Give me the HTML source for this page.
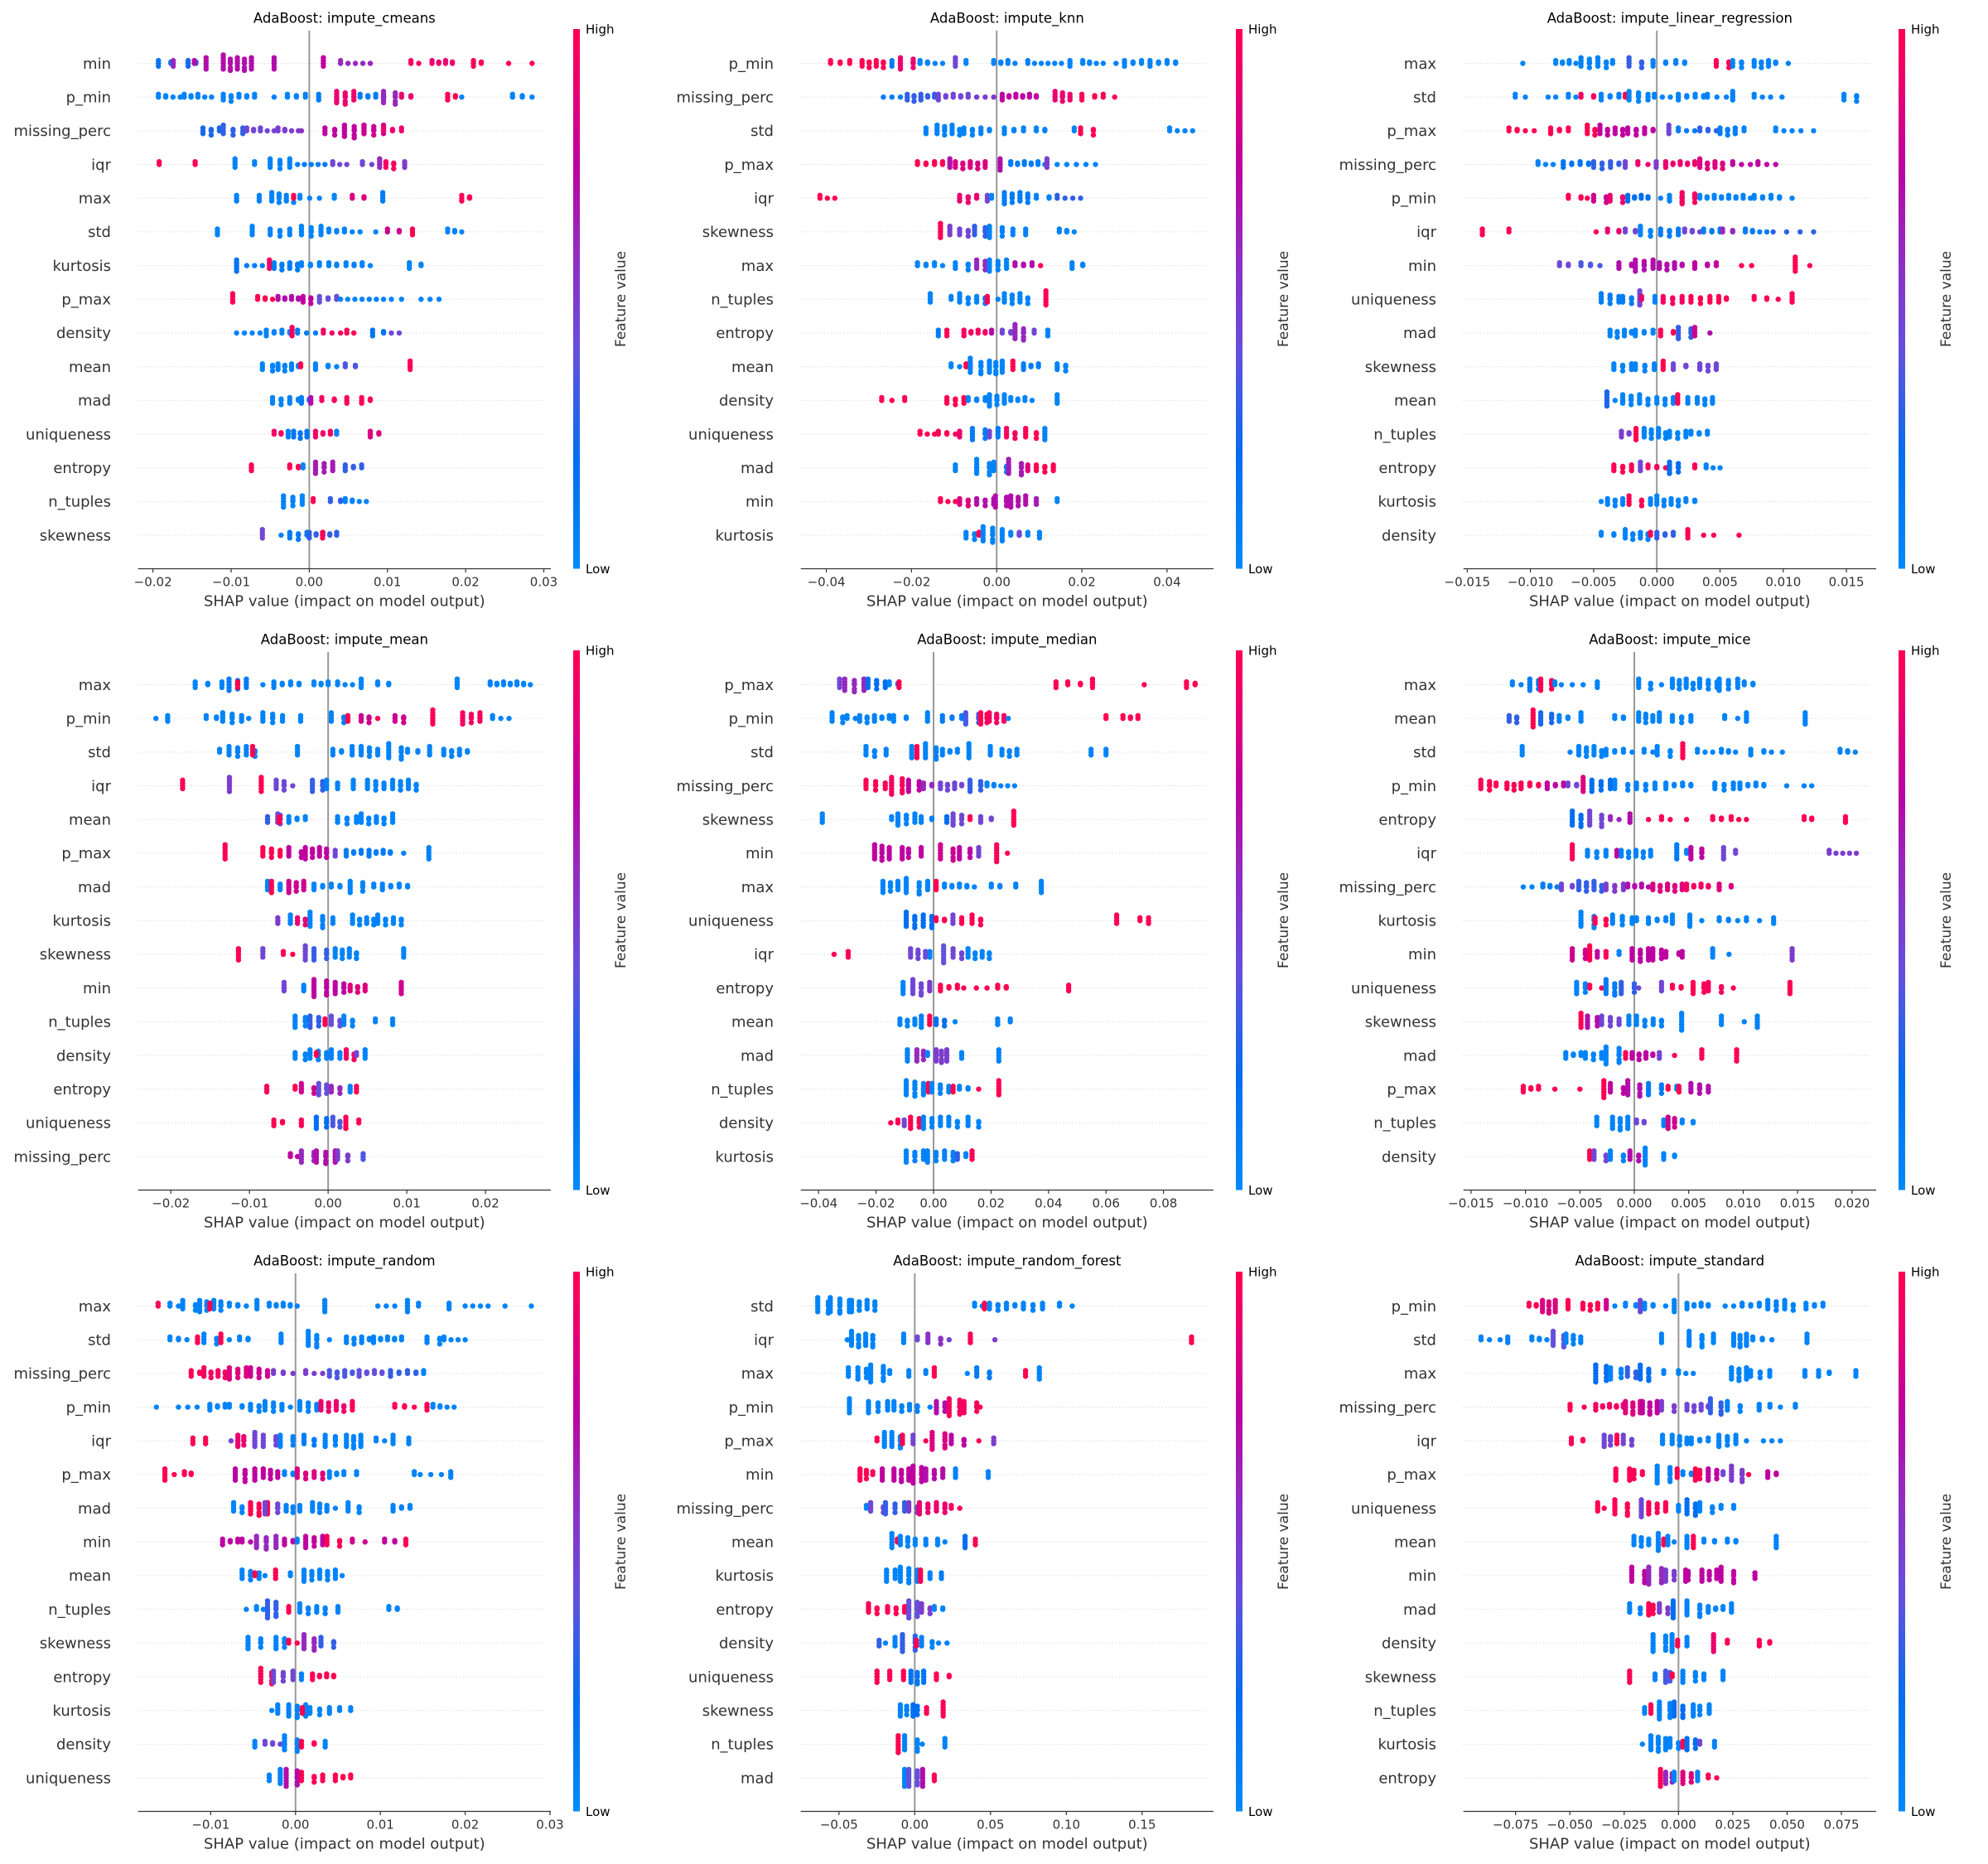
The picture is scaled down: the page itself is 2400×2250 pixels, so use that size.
<!DOCTYPE html>
<html>
<head>
<meta charset="utf-8">
<style>
html,body{margin:0;padding:0;background:#fff;}
svg{display:block;font-family:"DejaVu Sans","Liberation Sans",sans-serif;}
</style>
</head>
<body>
<svg id="fig" width="2400" height="2250" viewBox="0 0 2400 2250" xmlns="http://www.w3.org/2000/svg">
<defs>
<linearGradient id="cbar" x1="0" y1="1" x2="0" y2="0">
<stop offset="0" stop-color="#008afa"/>
<stop offset="0.2" stop-color="#006ef0"/>
<stop offset="0.4" stop-color="#6450dc"/>
<stop offset="0.6" stop-color="#9628be"/>
<stop offset="0.75" stop-color="#be00a0"/>
<stop offset="0.9" stop-color="#eb006e"/>
<stop offset="1" stop-color="#ff0052"/>
</linearGradient>
</defs>
</svg>
<script>
// ---------- Panel 1: impute_cmeans ----------
const p1Title = "AdaBoost: impute_cmeans";
const p1Features = ["min","p_min","missing_perc","iqr","max","std","kurtosis","p_max","density","mean","mad","uniqueness","entropy","n_tuples","skewness"];
const p1Domain = [-0.0219, 0.0309];
const p1Ticks = [-0.02,-0.01,0,0.01,0.02,0.03];
const p1TickLabels = ["\u22120.02","\u22120.01","0.00","0.01","0.02","0.03"];
const p1Clusters = [
 [[-0.0193,-0.0177,5,0.15],[-0.0174,3,0.6],[-0.0155,-0.0145,5,0.25],[-0.0147,2,0.7],[-0.0132,5,0.7],[-0.011,-0.0074,26,0.7],[-0.0045,5,0.7],[0.0018,4,0.75],[0.004,0.0078,6,0.6],[0.013,0.014,3,0.95],[0.0157,0.0183,8,0.9],[0.021,0.022,5,1],[0.0255,1,1],[0.0285,1,1]],
 [[-0.0193,-0.0165,6,0.05],[-0.016,-0.0125,8,0.05],[-0.011,-0.007,12,0.05],[-0.0045,1,0.05],[-0.0028,-0.0005,6,0.05],[0.0012,3,0.1],[0.0035,0.0057,14,0.9],[0.0065,0.0095,8,0.1],[0.0095,0.011,10,0.6],[0.0118,0.013,4,0.9],[0.0177,0.0187,5,1],[0.0195,1,0.05],[0.026,0.0285,5,0.05]],
 [[-0.0136,-0.0115,8,0.25],[-0.011,-0.0085,10,0.3],[-0.008,-0.0045,8,0.45],[-0.004,-0.0014,6,0.5],[-0.001,1,0.55],[0.002,0.0045,8,0.75],[0.0045,0.007,14,0.75],[0.007,0.0095,12,0.8],[0.0095,0.0118,6,0.9]],
 [[-0.0192,2,1],[-0.0146,2,1],[-0.0095,4,0.05],[-0.007,2,0.05],[-0.005,-0.0025,12,0.05],[-0.0015,0.002,5,0.1],[0.003,0.0048,4,0.45],[0.0068,0.008,3,0.45],[0.009,4,0.6],[0.0098,0.0108,6,0.95],[0.0122,3,0.5]],
 [[-0.0093,3,0.05],[-0.0068,-0.006,3,0.05],[-0.0048,-0.002,14,0.05],[-0.002,2,1],[-0.0012,0.0013,4,0.05],[0.0032,2,0.05],[0.0055,0.007,4,0.85],[0.009,0.0098,4,0.1],[0.0195,0.0205,5,1]],
 [[-0.012,-0.0115,3,0.05],[-0.0073,4,0.05],[-0.005,-0.0025,9,0.05],[-0.001,0.0015,12,0.05],[0.0025,0.0065,8,0.05],[0.0085,1,0.05],[0.01,0.0115,4,0.8],[0.0132,3,1],[0.0177,0.0195,5,0.05]],
 [[-0.0093,5,0.15],[-0.008,-0.006,3,0.1],[-0.0055,-0.0047,4,0.95],[-0.0045,-0.0015,12,0.1],[-0.001,0.0013,6,0.05],[0.0025,0.0035,4,0.05],[0.0047,0.0078,7,0.05],[0.0128,0.0143,5,0.05]],
 [[-0.0098,4,1],[-0.0066,-0.0047,5,1],[-0.004,-0.0014,8,0.7],[-0.0008,0.0002,6,0.75],[0.0013,0.0035,7,0.4],[0.004,0.0095,7,0.05],[0.0105,0.0118,2,0.05],[0.0143,0.0166,3,0.05]],
 [[-0.0093,-0.0063,4,0.05],[-0.0055,-0.0025,9,0.05],[-0.0022,4,0.95],[-0.0015,0.0008,4,0.1],[0.0018,0.004,4,0.95],[0.0048,0.0057,3,1],[0.0081,0.0095,5,0.15],[0.0105,0.0115,2,0.45]],
 [[-0.006,-0.0047,6,0.05],[-0.004,-0.0014,11,0.05],[-0.0011,2,1],[0.0008,0.0024,5,0.05],[0.0035,1,0.05],[0.0046,0.0059,4,0.35],[0.0129,4,1]],
 [[-0.0047,-0.0014,11,0.05],[-0.001,0,5,0.1],[0.0002,3,0.7],[0.0016,0.0032,4,0.95],[0.0048,3,1],[0.0067,0.0078,5,1]],
 [[-0.0045,-0.0036,4,0.95],[-0.0027,3,0.05],[-0.002,-0.0003,9,0.15],[0.0008,0.0027,7,0.95],[0.0035,2,0.05],[0.0078,0.0089,5,0.85]],
 [[-0.0074,3,1],[-0.0025,-0.0014,4,1],[-0.0008,2,0.05],[0.0008,0.003,13,0.65],[0.0046,0.0067,7,0.3]],
 [[-0.0033,-0.0009,13,0.05],[0.0005,2,1],[0.0027,0.004,4,0.3],[0.0046,0.0073,6,0.05]],
 [[-0.006,4,0.45],[-0.0036,1,0.05],[-0.0025,-0.0003,8,0.1],[0,0.0035,11,0.3],[0.0017,3,1]]
];

// ---------- Panel 2: impute_knn ----------
const p2Title = "AdaBoost: impute_knn";
const p2Features = ["p_min","missing_perc","std","p_max","iqr","skewness","max","n_tuples","entropy","mean","density","uniqueness","mad","min","kurtosis"];
const p2Domain = [-0.046, 0.0509];
const p2Ticks = [-0.04,-0.02,0,0.02,0.04];
const p2TickLabels = ["\u22120.04","\u22120.02","0.00","0.02","0.04"];
const p2Clusters = [
 [[-0.039,-0.0345,6,1],[-0.0316,-0.0266,12,1],[-0.0246,3,0.1],[-0.0226,-0.0196,9,0.9],[-0.018,-0.0127,6,0.05],[-0.0097,4,0.45],[-0.0072,2,0.05],[-0.0007,0.0043,7,0.05],[0.0073,0.0152,7,0.05],[0.0172,3,0.05],[0.0202,0.025,6,0.05],[0.028,1,0.05],[0.03,0.034,7,0.05],[0.036,0.042,9,0.05]],
 [[-0.0266,-0.0226,3,0.1],[-0.021,-0.0146,13,0.3],[-0.0137,-0.0067,11,0.45],[-0.0047,-0.0007,3,0.5],[0.0013,0.0093,13,0.75],[0.0137,0.0172,11,0.9],[0.02,0.023,5,1],[0.025,0.0277,3,1]],
 [[-0.0166,3,0.05],[-0.014,-0.0087,15,0.05],[-0.0077,-0.0017,11,0.05],[0.0018,0.0063,7,0.05],[0.0093,0.0113,4,0.05],[0.0182,2,0.05],[0.0197,0.0227,6,1],[0.0406,0.046,5,0.05]],
 [[-0.0186,-0.0146,6,1],[-0.0127,2,1],[-0.011,4,0.7],[-0.0097,-0.0027,15,0.85],[0.0003,0.0013,5,0.7],[0.0033,0.0113,11,0.1],[0.0118,4,0.5],[0.0142,0.0232,5,0.05]],
 [[-0.0415,-0.038,4,1],[-0.0087,-0.0047,8,0.9],[-0.0022,3,0.45],[-0.0012,2,0.05],[0.0018,0.0073,17,0.1],[0.0093,0.0123,4,0.05],[0.0142,0.0197,5,0.3]],
 [[-0.0137,-0.0127,6,1],[-0.011,4,0.5],[-0.0087,-0.0067,6,0.45],[-0.0052,-0.0027,8,0.3],[-0.0017,0.0013,9,0.05],[0.0038,3,0.05],[0.0068,3,0.05],[0.0147,0.0182,5,0.05]],
 [[-0.0186,-0.0146,6,0.05],[-0.0127,1,0.05],[-0.0097,-0.0067,6,0.05],[-0.0047,-0.0027,8,0.6],[-0.0017,0.0023,13,0.05],[0.0043,0.0083,6,0.7],[0.0103,1,1],[0.0177,0.0202,5,0.05]],
 [[-0.0156,4,0.05],[-0.0107,2,0.05],[-0.0087,-0.0027,13,0.05],[-0.0022,3,1],[0.0003,1,0.05],[0.0018,0.0073,15,0.05],[0.0108,0.0123,6,1]],
 [[-0.0137,3,0.1],[-0.0117,3,1],[-0.0077,-0.0027,9,0.95],[-0.0012,2,0.7],[0.0013,0.0033,4,0.45],[0.0043,0.0063,11,0.6],[0.0088,2,0.45],[0.012,3,0.05]],
 [[-0.0107,-0.0087,3,0.05],[-0.0072,2,1],[-0.0062,-0.0037,11,0.05],[-0.0017,0.0013,15,0.05],[0.0033,0.0043,4,1],[0.0063,0.0098,7,0.1],[0.0142,0.0162,6,0.05]],
 [[-0.027,-0.0246,3,1],[-0.0216,2,1],[-0.0117,-0.0077,9,1],[-0.0067,-0.0027,6,0.05],[-0.0017,0.0018,13,0.05],[0.0033,0.0083,7,0.05],[0.0142,4,0.05]],
 [[-0.018,-0.0146,4,1],[-0.0137,-0.0097,5,1],[-0.0087,3,0.9],[-0.0057,-0.0027,9,0.1],[-0.0017,3,0.45],[0.0003,4,0.1],[0.0023,0.0043,7,0.95],[0.0068,0.0093,7,1],[0.0108,0.0118,5,0.05]],
 [[-0.0097,3,0.05],[-0.0047,-0.0017,11,0.05],[-0.0007,0.0023,7,0.05],[0.0028,0.0058,11,0.65],[0.0073,3,0.85],[0.0093,0.0133,9,1]],
 [[-0.0132,-0.0097,4,1],[-0.0087,-0.0067,6,0.85],[-0.0047,-0.0007,9,0.7],[-0.0003,0.0023,9,0.7],[0.0033,0.0068,13,0.7],[0.0093,3,0.65],[0.0142,2,0.05]],
 [[-0.0072,-0.0052,6,0.05],[-0.0042,2,1],[-0.0032,0.0013,17,0.05],[0.0033,0.0073,6,0.05],[0.0053,2,0.45],[0.0093,0.0108,3,0.05]]
];

// ---------- Panel 3: impute_linear_regression ----------
const p3Title = "AdaBoost: impute_linear_regression";
const p3Features = ["max","std","p_max","missing_perc","p_min","iqr","min","uniqueness","mad","skewness","mean","n_tuples","entropy","kurtosis","density"];
const p3Domain = [-0.0153, 0.01735];
const p3Ticks = [-0.015,-0.01,-0.005,0,0.005,0.01,0.015];
const p3TickLabels = ["\u22120.015","\u22120.010","\u22120.005","0.000","0.005","0.010","0.015"];
const p3Clusters = [
 [[-0.0106,1,0.05],[-0.008,-0.0064,7,0.05],[-0.006,-0.004,15,0.05],[-0.0035,2,0.05],[-0.0022,-0.0012,7,0.3],[-0.0003,0.0007,5,0.05],[0.0015,0.0022,4,0.05],[0.0047,0.0057,6,1],[0.006,0.0067,6,0.05],[0.0077,0.0094,11,0.05],[0.0104,1,0.05]],
 [[-0.0112,-0.0104,3,0.05],[-0.0086,-0.008,2,0.05],[-0.007,-0.0064,3,0.05],[-0.006,-0.005,4,0.95],[-0.0044,-0.003,7,0.05],[-0.0025,2,1],[-0.0022,-0.0007,11,0.05],[-0.0002,0.0017,5,0.05],[0.0017,0.0037,9,0.05],[0.004,0.0055,4,0.05],[0.006,4,0.05],[0.0077,0.009,4,0.05],[0.0099,1,0.05],[0.0148,0.0158,6,0.05]],
 [[-0.0117,-0.0104,5,1],[-0.0097,1,1],[-0.0084,-0.007,7,1],[-0.0055,-0.0049,7,1],[-0.0045,-0.0027,13,0.75],[-0.0023,-0.0003,11,0.75],[0.0007,0.0012,4,0.45],[0.0017,0.003,4,0.1],[0.0034,0.0047,5,0.3],[0.005,0.0062,9,0.1],[0.0069,2,0.05],[0.0094,0.0107,4,0.05],[0.0114,0.0124,2,0.05]],
 [[-0.0094,-0.0082,4,0.05],[-0.0074,-0.0054,9,0.15],[-0.005,-0.003,11,0.3],[-0.0025,3,0.45],[-0.0015,-0.0007,3,0.9],[-0.0003,0.0002,3,0.5],[0.0007,0.003,11,0.9],[0.0034,0.0052,13,0.85],[0.006,0.0074,4,0.75],[0.008,0.0094,4,0.75]],
 [[-0.007,-0.006,4,1],[-0.0055,1,1],[-0.005,-0.004,6,0.8],[-0.0037,-0.0027,6,0.9],[-0.0023,-0.0007,9,0.2],[0.0003,1,0.05],[0.001,0.002,6,0.05],[0.002,0.003,9,0.95],[0.0034,0.0074,15,0.05],[0.0077,0.0097,8,0.05],[0.0107,1,0.05]],
 [[-0.0138,3,1],[-0.0117,2,1],[-0.0048,1,1],[-0.0039,-0.003,4,0.9],[-0.0025,-0.0017,4,0.45],[-0.0013,-0.0005,7,0.05],[0.0003,0.0017,9,0.1],[0.0022,0.0034,5,0.45],[0.0037,0.005,6,0.1],[0.0052,0.006,4,0.6],[0.007,0.0087,6,0.1],[0.0092,0.0124,4,0.3]],
 [[-0.0077,-0.007,4,0.45],[-0.006,-0.0045,5,0.35],[-0.003,-0.002,5,0.7],[-0.0017,-0.0003,13,0.7],[0.0002,0.002,11,0.7],[0.003,0.004,5,0.75],[0.0045,0.0049,2,0.75],[0.0067,0.0075,2,1],[0.0107,0.0112,6,1],[0.0121,1,1]],
 [[-0.0044,-0.003,11,0.1],[-0.0027,-0.002,6,0.1],[-0.0015,-0.0012,6,0.45],[-0.0012,2,0.9],[-0.0003,0,3,0.05],[0.0005,0.002,9,0.95],[0.0027,0.0042,9,1],[0.0049,0.0055,5,1],[0.0077,0.0087,4,1],[0.0096,1,1],[0.0107,4,1]],
 [[-0.0037,-0.002,11,0.05],[-0.0017,-0.0003,7,0.05],[0.0003,0.0013,5,1],[0.0017,0.0027,9,0.3],[0.003,4,0.8],[0.0042,1,0.7]],
 [[-0.0034,-0.002,9,0.05],[-0.0017,-0.0002,9,0.05],[0.0005,4,1],[0.0013,0.0023,5,0.45],[0.0034,0.0047,9,0.45]],
 [[-0.0042,-0.0037,6,0.25],[-0.0033,-0.0027,2,0.05],[-0.0027,-0.0007,15,0.05],[0,0.0013,9,0.05],[0.0015,0.0018,4,1],[0.0022,0.0027,3,0.05],[0.0032,0.0044,9,0.05]],
 [[-0.0028,-0.0022,5,0.5],[-0.0018,-0.0015,5,1],[-0.001,0.0007,15,0.05],[0.001,0.0023,9,0.05],[0.0027,0.004,6,0.05]],
 [[-0.0034,-0.002,9,1],[-0.0013,4,0.45],[-0.0007,0.0007,5,0.95],[0.001,0.0017,9,0.2],[0.003,2,1],[0.0039,0.005,4,0.05]],
 [[-0.0044,1,0.05],[-0.0039,-0.0027,9,0.05],[-0.0022,-0.0012,7,1],[-0.0007,-0.0003,3,0.05],[0,0.0017,13,0.05],[0.0023,0.003,4,0.05]],
 [[-0.0044,-0.0034,4,0.05],[-0.0025,-0.0007,13,0.05],[-0.0005,2,1],[0,0.0013,7,0.3],[0.0022,0.0027,4,1],[0.0037,0.0045,2,1],[0.0065,1,1]]
];

// ---------- Panel 4: impute_mean ----------
const p4Title = "AdaBoost: impute_mean";
const p4Features = ["max","p_min","std","iqr","mean","p_max","mad","kurtosis","skewness","min","n_tuples","density","entropy","uniqueness","missing_perc"];
const p4Domain = [-0.02416, 0.02831];
const p4Ticks = [-0.02,-0.01,0,0.01,0.02];
const p4TickLabels = ["\u22120.02","\u22120.01","0.00","0.01","0.02"];
const p4Clusters = [
 [[-0.0169,-0.0153,5,0.05],[-0.0139,-0.0131,3,0.05],[-0.0126,-0.0104,13,0.1],[-0.0115,3,1],[-0.0083,1,0.05],[-0.0069,-0.0037,9,0.05],[-0.0018,0,6,0.05],[0.0012,0.0031,4,0.05],[0.0042,4,0.05],[0.0063,0.0077,4,0.05],[0.016,0.0168,4,0.05],[0.0206,0.0257,13,0.05]],
 [[-0.0219,1,0.05],[-0.0204,3,0.05],[-0.0155,-0.0142,4,0.05],[-0.0134,-0.011,11,0.05],[-0.0101,1,0.05],[-0.0083,-0.0058,11,0.05],[-0.0039,-0.0031,3,0.05],[0.0004,0.002,7,0.05],[0.0025,3,1],[0.0042,0.0052,6,0.8],[0.0063,1,1],[0.0085,0.0096,6,0.8],[0.0133,6,1],[0.0171,0.0193,13,0.95],[0.0209,0.023,4,0.05]],
 [[-0.0138,2,0.05],[-0.0126,-0.0093,15,0.05],[-0.0096,4,1],[-0.0039,4,0.05],[0.0006,0.0017,5,0.05],[0.0028,0.0033,4,0.05],[0.0042,0.0063,11,0.05],[0.0077,0.0093,11,0.05],[0.0101,0.0114,4,0.05],[0.0125,0.0133,4,0.05],[0.0147,0.0177,11,0.05]],
 [[-0.0185,4,1],[-0.0128,-0.0123,6,0.5],[-0.0085,6,1],[-0.0066,-0.0056,8,0.45],[-0.0045,1,0.45],[-0.002,-0.0007,9,0.3],[-0.0002,4,0.05],[0.0009,0.0015,3,0.05],[0.0028,0.0036,4,0.05],[0.005,0.0071,11,0.05],[0.0082,0.0112,15,0.05]],
 [[-0.0077,3,0.3],[-0.0064,-0.0061,8,0.4],[-0.0062,3,1],[-0.005,-0.0029,7,0.05],[0.0012,0.0036,9,0.05],[0.0042,0.0071,13,0.05],[0.0082,4,0.05]],
 [[-0.0131,6,1],[-0.0083,-0.0061,11,1],[-0.005,-0.0034,7,0.75],[-0.0029,-0.0002,17,0.75],[0.0009,3,0.45],[0.0023,0.0042,7,0.1],[0.0052,0.0079,9,0.1],[0.0096,1,0.05],[0.0128,5,0.05]],
 [[-0.0077,4,0.05],[-0.0072,5,1],[-0.0061,3,0.05],[-0.005,-0.0031,13,0.8],[-0.0018,0.0015,9,0.05],[0.0028,0.0044,9,0.05],[0.0058,2,0.05],[0.0069,0.0101,9,0.05]],
 [[-0.0064,3,0.5],[-0.0048,4,0.05],[-0.0039,-0.0029,6,0.9],[-0.0023,-0.0007,11,0.05],[0.0006,3,0.05],[0.0031,0.0058,13,0.05],[0.0063,0.0093,13,0.05]],
 [[-0.0114,5,1],[-0.0083,4,0.45],[-0.0057,-0.0045,3,1],[-0.0029,6,0.45],[-0.0018,-0.0002,9,0.3],[0.0009,0.0036,15,0.05],[0.0096,4,0.05]],
 [[-0.0056,4,0.45],[-0.0031,3,0.05],[-0.0018,-0.0002,13,0.75],[0.0009,0.002,9,0.75],[0.0028,0.0047,9,0.85],[0.0093,5,0.8]],
 [[-0.0042,-0.0029,9,0.05],[-0.0023,-0.0012,9,0.3],[-0.0004,3,1],[0.0004,0.0015,7,0.4],[0.002,0.0031,7,0.05],[0.006,2,0.05],[0.0082,3,0.05]],
 [[-0.0042,-0.0029,6,0.05],[-0.0023,-0.0002,11,0.05],[-0.0015,2,1],[0.0004,4,0.05],[0.0015,3,0.05],[0.0023,0.0033,7,0.95],[0.0036,2,0.45],[0.0047,4,0.05]],
 [[-0.0078,3,1],[-0.0042,2,1],[-0.0034,-0.0018,7,0.8],[-0.0012,-0.0002,9,0.4],[0.0004,0.0015,6,0.6],[0.0028,3,0.05],[0.0036,3,1]],
 [[-0.0069,-0.0058,5,1],[-0.0037,-0.0031,3,1],[-0.0015,-0.0002,9,0.2],[0.0006,0.0015,7,0.35],[0.002,0.0025,5,1],[0.0039,2,1]],
 [[-0.0048,-0.0039,3,0.75],[-0.0034,-0.0018,9,0.6],[-0.0015,0.0009,15,0.7],[0.0012,0.0025,7,0.5],[0.0042,0.0047,3,0.35]]
];

// ---------- Panel 5: impute_median ----------
const p5Title = "AdaBoost: impute_median";
const p5Features = ["p_max","p_min","std","missing_perc","skewness","min","max","uniqueness","iqr","entropy","mean","mad","n_tuples","density","kurtosis"];
const p5Domain = [-0.0462, 0.0974];
const p5Ticks = [-0.04,-0.02,0,0.02,0.04,0.06,0.08];
const p5TickLabels = ["\u22120.04","\u22120.02","0.00","0.02","0.04","0.06","0.08"];
const p5Clusters = [
 [[-0.0338,-0.0316,4,0.45],[-0.0309,-0.0242,15,0.6],[-0.0228,-0.0168,11,0.2],[-0.0154,-0.0124,4,0.05],[-0.012,3,1],[0.0426,3,1],[0.0467,0.0511,4,1],[0.0553,4,1],[0.0733,1,1],[0.088,0.091,5,1]],
 [[-0.0353,-0.0316,7,0.05],[-0.0301,-0.0272,3,0.05],[-0.0257,-0.0154,13,0.05],[-0.0139,-0.0095,5,0.05],[-0.0021,4,0.05],[0.0031,0.0098,7,0.1],[0.0112,0.0157,9,0.35],[0.0164,0.0186,9,1],[0.0194,0.0245,11,0.95],[0.026,1,0.05],[0.06,2,1],[0.0659,0.0711,6,1]],
 [[-0.0235,-0.0205,7,0.05],[-0.0176,-0.0154,3,0.05],[-0.0087,-0.0065,5,0.05],[-0.0058,5,1],[-0.0028,0.0009,11,0.05],[0.0031,0.0083,7,0.05],[0.0112,0.0134,6,0.05],[0.0194,0.0201,4,0.05],[0.0238,0.029,9,0.05],[0.0548,3,0.05],[0.06,3,0.05]],
 [[-0.0235,-0.0168,11,1],[-0.0146,-0.0109,13,0.95],[-0.0087,-0.005,9,0.75],[-0.0035,-0.0006,5,0.6],[0.0024,0.0098,11,0.45],[0.0127,0.0164,9,0.3],[0.0186,0.0282,7,0.05]],
 [[-0.0387,4,0.05],[-0.0146,2,0.05],[-0.0124,-0.0065,13,0.05],[-0.0043,-0.0006,5,0.05],[0.0046,3,0.2],[0.0068,0.0098,9,0.45],[0.0127,2,1],[0.0164,0.0201,5,0.45],[0.0279,6,1]],
 [[-0.0205,-0.0154,17,0.75],[-0.0109,-0.0087,9,0.75],[-0.0043,4,0.75],[0.0024,0.0068,11,0.8],[0.009,0.0127,9,0.75],[0.0157,4,0.45],[0.0208,0.0231,7,1],[0.0257,1,1]],
 [[-0.0176,-0.0124,13,0.05],[-0.0095,-0.005,11,0.05],[-0.0028,-0.0013,4,0.05],[0.0009,4,1],[0.0038,0.0142,9,0.05],[0.0201,0.0231,4,0.05],[0.0275,0.0297,2,0.05],[0.0364,0.0386,5,0.05]],
 [[-0.0095,-0.0006,21,0.2],[0.0009,0.0038,4,1],[0.006,0.0075,4,0.45],[0.0098,3,1],[0.0134,0.0164,7,1],[0.0637,4,1],[0.0718,2,1],[0.0748,3,1]],
 [[-0.0346,1,1],[-0.0297,3,1],[-0.008,-0.0028,11,0.45],[-0.0013,3,0.05],[0.0024,0.0046,7,0.4],[0.0068,0.0098,7,0.45],[0.012,0.0194,13,0.05]],
 [[-0.0117,-0.0095,5,0.05],[-0.0072,-0.0043,11,0.45],[-0.0021,-0.0006,4,0.5],[0.0024,0.0083,7,1],[0.0105,1,1],[0.0149,0.0186,2,1],[0.0223,0.0253,4,1],[0.047,3,1]],
 [[-0.0117,-0.0065,9,0.05],[-0.005,-0.0035,5,0.05],[-0.0021,-0.0006,4,1],[0.0009,0.0038,6,0.2],[0.0075,1,0.05],[0.0223,3,0.05],[0.0267,2,0.05]],
 [[-0.0102,-0.008,5,0.05],[-0.0058,-0.0035,9,0.6],[-0.0021,2,0.05],[0.0009,0.0046,15,0.5],[0.0098,3,0.05],[0.0216,0.0238,5,0.05]],
 [[-0.0095,-0.0035,17,0.05],[-0.0018,4,1],[-0.0006,0.0053,11,0.05],[0.0068,3,1],[0.009,0.012,4,0.05],[0.0157,1,1],[0.0216,0.0238,6,1]],
 [[-0.0149,1,1],[-0.0124,2,1],[-0.0102,3,0.45],[-0.008,-0.005,9,1],[-0.0035,0.0024,13,0.05],[0.0053,0.0083,7,0.05],[0.012,0.0157,7,0.05]],
 [[-0.0095,-0.0035,13,0.05],[-0.0021,0.0068,17,0.05],[0.0083,3,0.3],[0.0105,0.012,2,0.05],[0.0134,4,1]]
];

// ---------- Panel 6: impute_mice ----------
const p6Title = "AdaBoost: impute_mice";
const p6Features = ["max","mean","std","p_min","entropy","iqr","missing_perc","kurtosis","min","uniqueness","skewness","mad","p_max","n_tuples","density"];
const p6Domain = [-0.0157, 0.02222];
const p6Ticks = [-0.015,-0.01,-0.005,0,0.005,0.01,0.015,0.02];
const p6TickLabels = ["\u22120.015","\u22120.010","\u22120.005","0.000","0.005","0.010","0.015","0.020"];
const p6Clusters = [
 [[-0.0112,-0.0104,3,0.05],[-0.0096,-0.0088,9,0.1],[-0.0086,-0.0076,9,1],[-0.0073,2,0.05],[-0.0067,1,0.05],[-0.0057,-0.0047,2,0.05],[-0.0034,3,0.05],[0.0004,0.0015,7,0.05],[0.0025,1,0.05],[0.0035,0.0054,15,0.05],[0.006,0.0076,11,0.05],[0.0078,0.0095,13,0.05],[0.0101,0.0109,4,0.05]],
 [[-0.0115,-0.0108,6,0.3],[-0.0096,-0.009,7,1],[-0.0086,-0.0076,9,0.25],[-0.0069,-0.0061,5,0.05],[-0.0049,4,0.05],[-0.0018,-0.001,4,0.05],[0.0004,0.0017,11,0.05],[0.0023,4,0.05],[0.0035,0.0052,9,0.05],[0.0083,0.0095,3,0.05],[0.0103,4,0.05],[0.0154,0.016,5,0.05]],
 [[-0.0106,-0.01,4,0.05],[-0.0059,1,0.05],[-0.0051,-0.003,15,0.05],[-0.0026,-0.0018,5,0.05],[-0.001,-0.0002,3,0.05],[0.0009,0.0017,3,0.05],[0.0021,0.0033,7,0.05],[0.0043,0.0046,6,1],[0.0058,0.0072,4,0.05],[0.008,0.0093,5,0.05],[0.0107,0.0119,5,0.05],[0.0126,0.0136,2,0.05],[0.0189,0.0203,5,0.05]],
 [[-0.0141,-0.0133,8,1],[-0.0127,2,1],[-0.0117,-0.0104,9,1],[-0.0096,-0.0088,4,1],[-0.008,-0.0065,7,0.75],[-0.0061,-0.0053,4,0.45],[-0.0049,-0.0045,6,0.85],[-0.0039,-0.0022,13,0.2],[-0.0018,-0.0006,7,0.05],[0.0002,0.0019,9,0.05],[0.0029,0.0052,9,0.05],[0.0074,0.0091,9,0.05],[0.0097,0.0119,9,0.05],[0.014,1,0.05],[0.0156,0.0163,2,0.05]],
 [[-0.0057,-0.0049,11,0.2],[-0.0041,-0.003,11,0.45],[-0.0022,-0.0014,3,0.6],[-0.0006,-0.0002,4,0.7],[0.0013,1,1],[0.0025,0.0033,3,1],[0.0048,1,1],[0.0072,0.008,4,1],[0.0089,0.0103,4,1],[0.0156,0.0163,4,1],[0.0194,3,1]],
 [[-0.0057,6,1],[-0.0043,-0.0026,9,0.05],[-0.0016,3,0.75],[-0.0012,0.0015,15,0.05],[0.0037,0.0041,6,0.1],[0.0048,2,0.05],[0.0052,0.0062,9,0.75],[0.008,0.0084,5,0.45],[0.0093,2,0.45],[0.0179,0.0204,6,0.5]],
 [[-0.0102,1,0.05],[-0.0094,1,0.05],[-0.0084,-0.0071,5,0.1],[-0.0067,-0.0057,5,0.45],[-0.0051,-0.003,15,0.3],[-0.0026,-0.001,9,0.5],[-0.0006,0.0013,7,0.7],[0.0017,0.0044,15,0.85],[0.0048,0.0068,9,0.95],[0.0078,0.0089,5,0.85]],
 [[-0.0049,-0.0037,11,0.05],[-0.0036,-0.0026,6,1],[-0.002,-0.0002,11,0.05],[0.0002,2,0.05],[0.0013,0.0029,7,0.05],[0.0035,4,0.05],[0.0048,0.0054,5,0.05],[0.0062,1,0.05],[0.0078,0.0095,5,0.05],[0.0103,2,0.05],[0.0115,1,0.05],[0.0128,3,0.05]],
 [[-0.0057,-0.0045,9,0.8],[-0.0041,6,1],[-0.0034,3,0.75],[-0.0026,3,1],[-0.0014,2,0.05],[-0.0002,0.0013,15,0.75],[0.0017,0.0025,9,0.75],[0.0029,0.0041,5,0.75],[0.0044,3,0.75],[0.0072,4,0.05],[0.0087,1,0.05],[0.0142,0.0148,5,0.5]],
 [[-0.0053,-0.0045,9,0.05],[-0.0041,-0.003,3,1],[-0.0026,-0.0018,11,0.1],[-0.0012,0,9,0.3],[0.0004,1,0.45],[0.0025,4,0.45],[0.0035,0.0043,4,1],[0.0054,0.0064,9,1],[0.0068,0.008,7,0.95],[0.0091,1,1],[0.014,0.0146,5,1]],
 [[-0.0049,6,1],[-0.0043,-0.0034,9,0.7],[-0.003,-0.0014,11,0.45],[-0.0008,-0.0002,4,0.05],[0.0002,0.0025,13,0.05],[0.0043,0.0044,7,0.05],[0.0078,0.0082,4,0.05],[0.0101,1,0.05],[0.0113,5,0.05]],
 [[-0.0063,-0.0049,7,0.05],[-0.0045,-0.003,9,0.05],[-0.0026,-0.0014,13,0.05],[-0.0008,3,1],[-0.0002,0.0017,11,0.75],[0.0021,0.0025,3,0.45],[0.0037,1,1],[0.006,0.0064,4,1],[0.0091,0.0097,5,1]],
 [[-0.0102,-0.0088,7,1],[-0.0073,1,1],[-0.005,1,1],[-0.003,-0.0026,7,1],[-0.0022,-0.001,7,0.75],[-0.0006,0.0005,11,0.7],[0.0013,0.0025,9,0.1],[0.0031,2,1],[0.0039,2,0.05],[0.0041,3,1],[0.0052,0.0068,11,0.7]],
 [[-0.0037,-0.0032,4,0.05],[-0.002,-0.0006,15,0.05],[0.0002,0.0009,4,0.45],[0.0025,0.0029,3,0.05],[0.0031,0.0037,9,0.8],[0.0044,0.0054,4,0.05]],
 [[-0.0043,-0.0039,4,1],[-0.0037,-0.0026,7,0.45],[-0.0022,-0.001,7,0.05],[-0.0004,0.0004,7,0.7],[0.0007,0.0013,7,0.05],[0.0027,0.0037,5,0.05]]
];

// ---------- Panel 7: impute_random ----------
const p7Title = "AdaBoost: impute_random";
const p7Features = ["max","std","missing_perc","p_min","iqr","p_max","mad","min","mean","n_tuples","skewness","entropy","kurtosis","density","uniqueness"];
const p7Domain = [-0.01856, 0.0301];
const p7Ticks = [-0.01,0,0.01,0.02,0.03];
const p7TickLabels = ["\u22120.01","0.00","0.01","0.02","0.03"];
const p7Clusters = [
 [[-0.0162,2,1],[-0.0148,-0.0138,3,0.05],[-0.0133,-0.0118,7,0.05],[-0.0113,-0.0088,17,0.05],[-0.0101,3,1],[-0.0078,-0.0058,5,0.05],[-0.0048,-0.0043,4,0.05],[-0.0031,0.0002,9,0.05],[0.0032,0.0037,5,0.05],[0.0097,0.0117,3,0.05],[0.0132,5,0.05],[0.0145,2,0.05],[0.018,0.0182,3,0.05],[0.02,0.0227,4,0.05],[0.0247,1,0.05],[0.0278,1,0.05]],
 [[-0.0148,-0.0128,5,0.05],[-0.0118,-0.0113,3,1],[-0.0108,-0.0093,7,0.05],[-0.0088,4,1],[-0.0078,1,0.05],[-0.0066,-0.0056,4,0.05],[-0.0017,4,0.05],[0.0015,0.0025,11,0.05],[0.004,1,0.05],[0.006,0.0087,11,0.05],[0.0092,0.0125,11,0.05],[0.0155,0.017,6,0.05],[0.0175,0.02,5,0.05]],
 [[-0.0123,-0.0113,5,1],[-0.0108,-0.0083,13,0.95],[-0.0078,-0.0058,13,0.85],[-0.0053,-0.0033,11,0.8],[-0.0026,-0.0003,5,0.5],[0.0012,0.0032,4,0.5],[0.004,0.0067,11,0.35],[0.0075,0.0102,9,0.4],[0.0112,0.0142,9,0.3],[0.0151,2,0.05]],
 [[-0.0164,1,0.05],[-0.0138,-0.0116,3,0.05],[-0.0101,-0.0083,7,0.05],[-0.0078,-0.0063,4,0.05],[-0.0053,-0.0043,6,0.05],[-0.0036,-0.0016,11,0.05],[-0.0006,1,0.05],[0.0005,0.0025,11,0.05],[0.003,0.0057,15,0.9],[0.0067,4,1],[0.0117,0.014,5,1],[0.0155,3,1],[0.0162,0.0187,6,0.05]],
 [[-0.0121,3,1],[-0.0106,3,1],[-0.0076,1,0.45],[-0.0068,-0.0061,9,0.9],[-0.0048,6,0.45],[-0.0038,-0.0023,9,0.45],[-0.0018,-0.0003,9,0.05],[0.001,0.0022,7,0.1],[0.0035,0.0047,9,0.05],[0.006,0.0077,15,0.05],[0.0095,0.0105,3,0.05],[0.0115,4,0.05],[0.013,0.0137,3,0.05]],
 [[-0.0154,5,1],[-0.0143,1,1],[-0.0131,-0.0123,4,1],[-0.0071,-0.0048,15,0.75],[-0.0038,-0.0021,11,0.75],[-0.0013,-0.0003,4,0.05],[0.0002,0.0032,13,0.85],[0.004,0.0057,7,0.05],[0.0072,2,0.05],[0.014,2,0.05],[0.0147,0.0172,3,0.05],[0.0183,3,0.05]],
 [[-0.0073,-0.0063,7,0.05],[-0.0053,-0.0033,15,1],[-0.0036,-0.0021,9,0.45],[-0.0011,0.0005,9,0.05],[0.002,0.0037,11,0.05],[0.0047,1,0.05],[0.0062,0.0075,7,0.05],[0.0115,0.0135,7,0.05]],
 [[-0.0086,-0.0068,7,0.75],[-0.0063,-0.0053,3,0.75],[-0.0046,-0.0023,15,0.6],[-0.0013,-0.0003,5,0.75],[0.0002,2,0.05],[0.0012,0.0032,13,0.75],[0.0037,0.0052,7,1],[0.0067,0.0082,3,0.8],[0.0105,0.0117,4,0.75],[0.013,3,1]],
 [[-0.0063,-0.0043,11,0.05],[-0.0048,2,1],[-0.0036,1,0.05],[-0.0026,-0.0021,4,1],[-0.0006,2,0.05],[0.001,0.0047,21,0.05],[0.0055,1,0.05]],
 [[-0.0058,1,0.05],[-0.0046,-0.0038,3,0.05],[-0.0033,-0.0023,13,0.3],[-0.0008,3,1],[0.0005,0.0035,13,0.05],[0.005,3,0.05],[0.011,0.012,4,0.05]],
 [[-0.0056,-0.0041,9,0.05],[-0.0023,-0.0013,9,0.05],[-0.0008,0.0002,3,1],[0.001,0.0022,11,0.6],[0.003,0.0045,7,0.3]],
 [[-0.0041,-0.0028,11,1],[-0.0026,-0.0003,13,0.45],[0.0007,3,0.05],[0.002,0.0045,9,1]],
 [[-0.0028,1,0.05],[-0.0021,4,0.05],[-0.0008,0.0012,15,0.05],[0.0008,3,1],[0.0017,0.004,9,0.05],[0.0052,2,0.05],[0.0065,2,0.05]],
 [[-0.0048,3,0.05],[-0.0036,-0.0018,5,0.45],[-0.0013,0.0002,11,0.05],[0.0007,0.0022,5,1],[0.0035,3,0.05]],
 [[-0.0031,3,0.05],[-0.0018,6,0.05],[-0.0011,0.0002,13,0.7],[0.0007,0.0022,7,1],[0.0032,3,1],[0.0047,0.0065,7,1]]
];

// ---------- Panel 8: impute_random_forest ----------
const p8Title = "AdaBoost: impute_random_forest";
const p8Features = ["std","iqr","max","p_min","p_max","min","missing_perc","mean","kurtosis","entropy","density","uniqueness","skewness","n_tuples","mad"];
const p8Domain = [-0.0752, 0.1971];
const p8Ticks = [-0.05,0,0.05,0.1,0.15];
const p8TickLabels = ["\u22120.05","0.00","0.05","0.10","0.15"];
const p8Clusters = [
 [[-0.064,-0.057,11,0.05],[-0.0557,-0.0431,17,0.05],[-0.0417,-0.0263,17,0.05],[0.0395,0.0445,3,0.05],[0.046,3,1],[0.0493,0.0661,11,0.05],[0.0717,0.0843,9,0.05],[0.0955,0.1039,3,0.05]],
 [[-0.0445,1,0.05],[-0.0417,-0.0277,21,0.05],[-0.0073,4,0.05],[0.0017,2,0.45],[0.0087,0.0171,7,0.55],[0.0227,1,0.45],[0.0367,4,1],[0.0529,1,0.5],[0.1826,3,1]],
 [[-0.0445,-0.0431,4,0.05],[-0.0375,-0.0319,9,0.05],[-0.0291,-0.0207,13,0.05],[-0.0165,2,0.05],[-0.0053,-0.0025,3,0.05],[0.0073,2,0.05],[0.0129,4,1],[0.0347,1,0.05],[0.0409,0.0493,7,0.1],[0.0731,3,1],[0.0801,0.0843,5,0.05]],
 [[-0.0431,6,0.05],[-0.0305,-0.0179,13,0.05],[-0.0137,0.0017,13,0.05],[0.0101,1,0.05],[0.0143,0.0199,9,0.7],[0.0227,0.0297,13,0.95],[0.0325,0.0409,9,0.95],[0.0431,1,1]],
 [[-0.0249,2,1],[-0.0221,-0.0179,6,0.05],[-0.0151,-0.0095,11,0.05],[-0.0081,4,1],[-0.0011,4,0.45],[0.0073,1,1],[0.0115,0.0199,13,0.85],[0.0241,0.0325,7,0.75],[0.0423,1,1],[0.0521,3,0.5]],
 [[-0.0361,-0.0319,9,1],[-0.0277,2,1],[-0.0235,-0.0193,5,0.75],[-0.0137,-0.0039,15,0.75],[-0.0011,0.0045,13,0.75],[0.0073,0.0185,13,0.7],[0.0269,4,0.05],[0.0485,3,0.05]],
 [[-0.0319,2,0.05],[-0.0291,-0.0207,7,0.45],[-0.0193,-0.0067,13,0.3],[-0.0039,0.0017,7,0.5],[0.0031,0.0199,17,0.9],[0.0241,0.0297,3,0.95]],
 [[-0.0165,-0.0137,6,0.05],[-0.0115,2,1],[-0.0095,0.0003,11,0.05],[0.0073,3,0.05],[0.0151,3,0.05],[0.0199,1,0.05],[0.0311,0.0353,5,0.2],[0.04,3,1]],
 [[-0.0207,-0.0165,5,0.05],[-0.0129,4,0.05],[-0.0095,0.0017,17,0.05],[0.0017,0.0059,5,1],[0.0101,3,0.05],[0.0176,3,0.1]],
 [[-0.0305,-0.0249,7,1],[-0.0179,-0.0067,9,1],[-0.0039,0.0017,13,0.4],[0.0045,0.0101,7,0.5],[0.0129,0.0185,4,0.05]],
 [[-0.0249,-0.0221,3,0.3],[-0.0193,1,0.05],[-0.0151,-0.0109,4,0.05],[-0.0081,0.0003,13,0.3],[0.0011,3,1],[0.0045,0.0115,7,0.05],[0.0157,1,0.05],[0.0213,1,0.05]],
 [[-0.0249,5,1],[-0.0179,-0.0151,4,1],[-0.0095,-0.0053,4,1],[-0.0025,0.0059,15,0.15],[0.0143,0.0227,5,1]],
 [[-0.0095,-0.0053,9,0.05],[-0.0011,0.0017,9,0.2],[0.0078,3,1],[0.0176,0.0199,6,1]],
 [[-0.0123,-0.0095,7,1],[-0.0067,0.0017,11,0.05],[0.005,1,0.05],[0.0199,4,0.05]],
 [[-0.0081,-0.0053,7,0.05],[-0.0039,0.0017,13,0.4],[0.0031,0.0073,7,0.7],[0.0129,3,1]]
];

// ---------- Panel 9: impute_standard ----------
const p9Title = "AdaBoost: impute_standard";
const p9Features = ["p_min","std","max","missing_perc","iqr","p_max","uniqueness","mean","min","mad","density","skewness","n_tuples","kurtosis","entropy"];
const p9Domain = [-0.099, 0.091];
const p9Ticks = [-0.075,-0.05,-0.025,0,0.025,0.05,0.075];
const p9TickLabels = ["\u22120.075","\u22120.050","\u22120.025","0.000","0.025","0.050","0.075"];
const p9Clusters = [
 [[-0.0688,-0.0655,4,1],[-0.0626,-0.0567,15,0.85],[-0.0518,-0.0499,4,1],[-0.044,-0.0372,9,1],[-0.0342,-0.0323,4,0.8],[-0.0293,1,0.05],[-0.0244,-0.0196,4,0.05],[-0.0176,5,0.45],[-0.0156,-0.0117,5,0.05],[-0.0059,1,0.05],[-0.0029,-0.001,5,0.05],[0.0039,0.0137,9,0.05],[0.0215,0.0254,2,0.05],[0.0293,0.0372,6,0.05],[0.0411,0.0528,15,0.05],[0.0587,0.0665,7,0.05]],
 [[-0.0909,-0.087,3,0.05],[-0.0821,1,0.05],[-0.0786,3,0.05],[-0.0675,-0.0606,5,0.05],[-0.0577,-0.0528,11,0.4],[-0.0518,-0.045,11,0.05],[-0.0078,4,0.05],[0.0049,0.0108,11,0.05],[0.0156,0.0166,4,0.05],[0.0254,0.0313,15,0.05],[0.0342,0.043,5,0.05],[0.0577,0.0606,4,0.05]],
 [[-0.0381,-0.0332,13,0.2],[-0.0313,-0.0264,9,0.05],[-0.0235,-0.0196,7,0.3],[-0.0176,-0.0137,11,0.2],[-0.0068,2,0.05],[0,0.0068,4,0.05],[0.0244,0.0313,15,0.05],[0.0332,0.042,9,0.05],[0.0567,0.0597,3,0.05],[0.0645,0.0694,5,0.05],[0.0802,0.0831,3,0.05]],
 [[-0.0509,-0.0489,3,1],[-0.0434,1,1],[-0.0381,-0.0254,11,0.95],[-0.0244,-0.0176,15,0.85],[-0.0166,-0.0098,15,0.75],[-0.0078,-0.002,7,0.5],[0.0039,0.0137,11,0.45],[0.0147,0.0196,11,0.3],[0.0225,0.0284,7,0.05],[0.0362,0.0381,3,0.05],[0.0421,0.0469,3,0.05],[0.0528,0.0548,2,0.05]],
 [[-0.0493,-0.044,5,1],[-0.0342,-0.0313,9,0.45],[-0.0293,-0.0274,4,1],[-0.0254,-0.0215,7,0.45],[-0.0088,-0.0059,4,0.05],[-0.0029,0.0039,11,0.05],[0.0059,0.0137,7,0.05],[0.0186,0.0264,13,0.05],[0.0313,1,0.05],[0.0391,0.0469,3,0.05]],
 [[-0.0303,-0.0274,5,1],[-0.0225,-0.0205,9,1],[-0.0166,2,1],[-0.0098,-0.0039,13,0.05],[-0.0006,4,1],[0.002,0.0059,4,0.05],[0.0078,0.0098,9,1],[0.0137,0.0176,9,0.75],[0.0205,2,0.45],[0.0244,0.0293,11,0.5],[0.0323,1,1],[0.0411,0.045,5,0.75]],
 [[-0.0372,4,1],[-0.0342,1,1],[-0.0293,-0.0235,11,1],[-0.0186,-0.0156,7,0.45],[-0.0137,-0.0059,13,1],[0,3,0.05],[0.0039,0.0078,11,0.2],[0.0098,0.0156,7,0.05],[0.0196,2,0.05],[0.0254,2,0.05]],
 [[-0.0205,-0.0137,11,0.05],[-0.0108,-0.0078,7,0.05],[-0.0068,3,1],[-0.0059,-0.0039,4,0.05],[-0.002,1,0.05],[0.0029,0.0049,5,0.05],[0.0059,0.0078,5,1],[0.0117,0.0166,4,0.05],[0.0225,0.0264,4,0.05],[0.045,5,0.05]],
 [[-0.0215,-0.0156,11,0.75],[-0.0137,-0.0078,13,0.6],[-0.0059,-0.002,9,0.5],[0.0039,9,0.75],[0.0108,0.0176,13,0.75],[0.0196,0.0254,11,0.75],[0.0352,3,0.75]],
 [[-0.0225,-0.0176,7,0.05],[-0.0137,-0.0117,9,1],[-0.0088,-0.0049,7,0.5],[-0.0029,-0.002,7,0.2],[0.0039,0.0098,11,0.05],[0.0137,0.0205,7,0.05],[0.0244,4,0.05]],
 [[-0.0117,-0.0059,13,0.05],[-0.0039,-0.002,7,0.05],[-0.0004,3,1],[0.0029,0.0049,4,0.05],[0.0147,0.0176,7,0.9],[0.0225,2,1],[0.0372,0.042,5,1]],
 [[-0.0235,-0.0215,5,1],[-0.0108,3,0.05],[-0.0059,-0.0039,9,0.35],[-0.0029,2,1],[0.002,0.0078,9,0.05],[0.0117,3,0.05],[0.0205,4,0.05]],
 [[-0.0156,3,0.05],[-0.0127,4,1],[-0.0088,-0.0039,13,0.05],[-0.002,0.002,11,0.2],[0.0068,0.0098,9,0.05],[0.0127,0.0156,4,0.05]],
 [[-0.0166,1,0.05],[-0.0127,-0.0059,17,0.05],[-0.0039,0,7,0.05],[0.002,3,1],[0.0039,0.0078,9,0.2],[0.0098,2,0.45],[0.0156,0.0176,3,0.05]],
 [[-0.0098,-0.0068,7,1],[-0.0059,-0.0029,9,0.6],[-0.002,4,0.05],[0.002,0.0059,9,0.85],[0.0078,0.0098,4,0.05],[0.0137,0.0176,3,1]]
];

// ---------- rendering ----------
const NS = "http://www.w3.org/2000/svg";
const svg = document.getElementById("fig");
const FONT_C = "#333333";

const L = { axL:166.7, axR:665, axB:686.5, row0:76.5, rowStep:40.68, labelX:134, zeroTop:37,
            cbX:692, cbW:8, cbTop:35, cbBot:686.5, gridR:659 };

const CMAP = [[0,[0,138,250]],[0.2,[0,110,240]],[0.4,[100,80,220]],[0.6,[150,40,190]],[0.75,[190,0,160]],[0.9,[235,0,110]],[1,[255,0,82]]];
function colorAt(t){
  for(let i=1;i<CMAP.length;i++){
    if(t<=CMAP[i][0]){
      const a=CMAP[i-1], b=CMAP[i], f=(t-a[0])/(b[0]-a[0]);
      const c=a[1].map((v,k)=>Math.round(v+(b[1][k]-v)*f));
      return "rgb("+c.join(",")+")";
    }
  }
  return "rgb(255,0,82)";
}
function el(tag, attrs, parent){
  const e=document.createElementNS(NS,tag);
  for(const k in attrs) e.setAttribute(k, attrs[k]);
  (parent||svg).appendChild(e);
  return e;
}

const panels = [
 {title:p1Title, features:p1Features, domain:p1Domain, ticks:p1Ticks, tickLabels:p1TickLabels, clusters:p1Clusters},
 {title:p2Title, features:p2Features, domain:p2Domain, ticks:p2Ticks, tickLabels:p2TickLabels, clusters:p2Clusters},
 {title:p3Title, features:p3Features, domain:p3Domain, ticks:p3Ticks, tickLabels:p3TickLabels, clusters:p3Clusters},
 {title:p4Title, features:p4Features, domain:p4Domain, ticks:p4Ticks, tickLabels:p4TickLabels, clusters:p4Clusters},
 {title:p5Title, features:p5Features, domain:p5Domain, ticks:p5Ticks, tickLabels:p5TickLabels, clusters:p5Clusters},
 {title:p6Title, features:p6Features, domain:p6Domain, ticks:p6Ticks, tickLabels:p6TickLabels, clusters:p6Clusters},
 {title:p7Title, features:p7Features, domain:p7Domain, ticks:p7Ticks, tickLabels:p7TickLabels, clusters:p7Clusters},
 {title:p8Title, features:p8Features, domain:p8Domain, ticks:p8Ticks, tickLabels:p8TickLabels, clusters:p8Clusters},
 {title:p9Title, features:p9Features, domain:p9Domain, ticks:p9Ticks, tickLabels:p9TickLabels, clusters:p9Clusters}
];

const VOFF = [0,-3.4,3.4,-6.8,6.8,-10.2,10.2];

panels.forEach((p, idx) => {
  const ox = (idx % 3) * 800, oy = Math.floor(idx / 3) * 750;
  const g = el("g", {transform:"translate("+ox+","+oy+")"});
  
  
  const xScale = v => L.axL + (v - p.domain[0]) / (p.domain[1] - p.domain[0]) * (L.axR - L.axL);
  const yRow = i => L.row0 + i * L.rowStep;

  const t = el("text", {x:(L.axL+L.axR)/2, y:27.5, "text-anchor":"middle", "font-size":"16.5", fill:"#000"}, g);
  t.textContent = p.title;
  
  

  p.features.forEach((f, i) => {
    const gl = el("line", {x1:L.axL, x2:L.gridR, y1:yRow(i), y2:yRow(i), stroke:"#cccccc", "stroke-width":"1", "stroke-dasharray":"1,3"}, g);
    
    
    const lb = el("text", {x:L.labelX, y:yRow(i)+6.3, "text-anchor":"end", "font-size":"18", fill:FONT_C}, g);
    lb.textContent = f;
    
    
  });

  const zl = el("line", {x1:xScale(0), x2:xScale(0), y1:L.zeroTop, y2:L.axB, stroke:"#999999", "stroke-width":"2"}, g);
  
  

  const dots = el("g", {}, g);
  
  
  p.clusters.forEach((row, i) => {
    const cy = yRow(i);
    row.forEach(c => {
      let lo, hi, n, col;
      if (c.length === 4) { lo = c[0]; hi = c[1]; n = c[2]; col = c[3]; }
      else { lo = c[0]; hi = c[0]; n = c[1]; col = c[2]; }
      const pxLo = xScale(lo), pxHi = xScale(hi), w = pxHi - pxLo;
      let cols = Math.max(Math.ceil(n / 7), Math.floor(w / 8) + 1);
      cols = Math.min(cols, n);
      const perCol = new Array(cols).fill(0);
      for (let k = 0; k < n; k++) perCol[k % cols]++;
      const fill = colorAt(col);
      for (let k = 0; k < cols; k++) {
        let cx;
        if (cols === 1) cx = (pxLo + pxHi) / 2;
        else if (w >= (cols - 1) * 3) cx = pxLo + w * k / (cols - 1);
        else cx = (pxLo + pxHi) / 2 + (k - (cols - 1) / 2) * 3;
        for (let j = 0; j < perCol[k]; j++) {
          const d = el("circle", {cx:cx.toFixed(2), cy:(cy + VOFF[j % 7] + (k % 2 ? 1.7 : 0) * (j > 0 ? 1 : 0)).toFixed(2), r:"3.2", fill:fill}, dots);
          
          
        }
      }
    });
  });

  const ax = el("line", {x1:L.axL, x2:L.axR, y1:L.axB, y2:L.axB, stroke:"#333333", "stroke-width":"1.2"}, g);
  
  
  p.ticks.forEach((tv, k) => {
    const tx = xScale(tv);
    const tk = el("line", {x1:tx, x2:tx, y1:L.axB, y2:L.axB+4.5, stroke:"#333333", "stroke-width":"1.2"}, g);
    
    
    const tl = el("text", {x:tx, y:L.axB+21, "text-anchor":"middle", "font-size":"15", fill:FONT_C}, g);
    tl.textContent = p.tickLabels[k];
    
    
  });
  const xl = el("text", {x:(L.axL+L.axR)/2, y:731.5, "text-anchor":"middle", "font-size":"18", fill:FONT_C}, g);
  xl.textContent = "SHAP value (impact on model output)";
  
  

  const cb = el("rect", {x:L.cbX, y:L.cbTop, width:L.cbW, height:L.cbBot-L.cbTop, fill:"url(#cbar)"}, g);
  
  
  const hi = el("text", {x:707, y:L.cbTop+5.5, "font-size":"15", fill:"#000"}, g);
  hi.textContent = "High";
  
  
  const lo = el("text", {x:707, y:L.cbBot+5.5, "font-size":"15", fill:"#000"}, g);
  lo.textContent = "Low";
  
  
  const fv = el("text", {x:0, y:0, "text-anchor":"middle", "font-size":"17", fill:FONT_C, transform:"translate(755,361) rotate(-90)"}, g);
  fv.textContent = "Feature value";
  
  
});
</script>
</body>
</html>
